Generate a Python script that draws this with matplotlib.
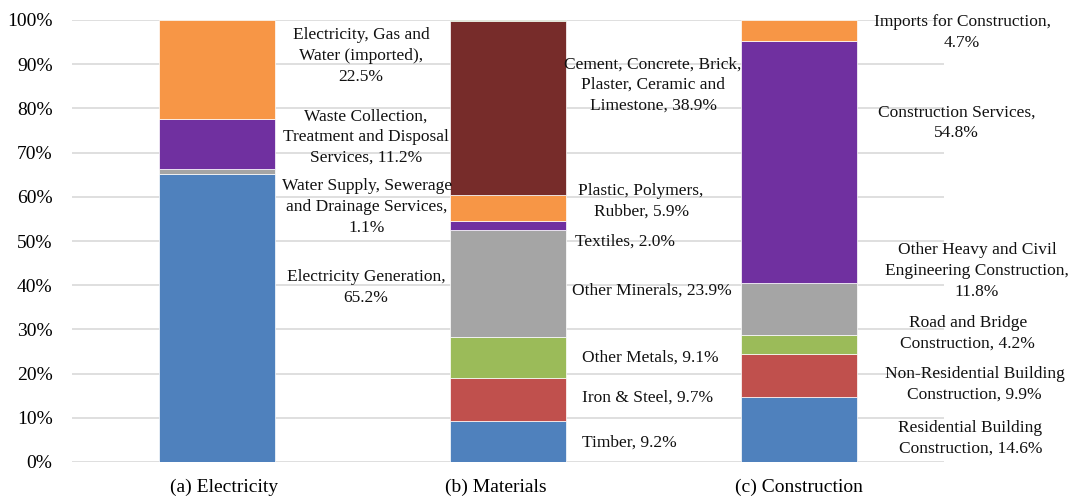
import numpy as np
import matplotlib
matplotlib.use("Agg")
import matplotlib.pyplot as plt

plt.rcParams["font.family"] = ["Liberation Serif", "DejaVu Serif"]

CATEGORIES = ["(a) Electricity", "(b) Materials", "(c) Construction"]

# (a) Electricity, bottom -> top
ELEC_VALUES = [65.2, 1.1, 11.2, 22.5]
ELEC_COLORS = ["#4F81BD", "#A5A5A5", "#7030A0", "#F79646"]
ELEC_LABELS = ["Electricity Generation,\n65.2%",
               "Water Supply, Sewerage\nand Drainage Services,\n1.1%",
               "Waste Collection,\nTreatment and Disposal\nServices, 11.2%",
               "Electricity, Gas and\nWater (imported),\n22.5%"]

# (b) Materials, bottom -> top (last one is the thin unlabelled sliver)
MAT_VALUES = [9.2, 9.7, 9.1, 23.9, 2.0, 5.9, 38.9, 0.3]
MAT_COLORS = ["#4F81BD", "#C0504D", "#9BBB59", "#A5A5A5", "#7030A0",
              "#F79646", "#772C2A", "#5F7F30"]
MAT_LABELS = ["Timber, 9.2%", "Iron & Steel, 9.7%", "Other Metals, 9.1%",
              "Other Minerals, 23.9%", "Textiles, 2.0%",
              "Plastic, Polymers,\nRubber, 5.9%",
              "Cement, Concrete, Brick,\nPlaster, Ceramic and\nLimestone, 38.9%",
              None]

# (c) Construction, bottom -> top
CON_VALUES = [14.6, 9.9, 4.2, 11.8, 54.8, 4.7]
CON_COLORS = ["#4F81BD", "#C0504D", "#9BBB59", "#A5A5A5", "#7030A0", "#F79646"]
CON_LABELS = ["Residential Building\nConstruction, 14.6%",
              "Non-Residential Building\nConstruction, 9.9%",
              "Road and Bridge\nConstruction, 4.2%",
              "Other Heavy and Civil\nEngineering Construction,\n11.8%",
              "Construction Services,\n54.8%",
              "Imports for Construction,\n4.7%"]

# label placement (x offset from bar centre, y in %), set by hand like the original
ELEC_LABEL_POS = [(0.512, 39.4), (0.515, 57.7), (0.512, 73.5), (0.494, 91.9)]
MAT_LABEL_POS = [(0.416, 4.3), (0.481, 14.5), (0.488, 23.5), (0.495, 38.7),
                 (0.403, 49.8), (0.458, 59.0), (0.499, 85.3), None]
CON_LABEL_POS = [(0.591, 5.4), (0.605, 17.6), (0.582, 29.2), (0.614, 43.2),
                 (0.544, 76.8), (0.562, 97.2)]
# category labels are not quite centred under the bars in the original (px)
XLABEL_SHIFT = [7, -12, 0]

fig = plt.figure(figsize=(10.72, 4.96), dpi=100)
ax = fig.add_axes([72 / 1072, 34 / 496, 872 / 1072, 442 / 496])

groups = [(ELEC_VALUES, ELEC_COLORS, ELEC_LABELS, ELEC_LABEL_POS),
          (MAT_VALUES, MAT_COLORS, MAT_LABELS, MAT_LABEL_POS),
          (CON_VALUES, CON_COLORS, CON_LABELS, CON_LABEL_POS)]

for i, (vals, cols, labs, pos) in enumerate(groups):
    v = np.array(vals, dtype=float)
    v = v / v.sum() * 100          # 100% stacked
    bottoms = np.concatenate([[0], np.cumsum(v)[:-1]])
    ax.bar(i, v, bottom=bottoms, width=0.4, color=cols,
           edgecolor="white", linewidth=0.5, zorder=3)
    for lab, p in zip(labs, pos):
        if lab is None:
            continue
        ax.text(i + p[0], p[1], lab, ha="center", va="center",
                fontsize=12.5, linespacing=1.4, color="#111111", zorder=4,
                clip_on=False)

ax.set_xlim(-0.5, 2.5)
ax.set_ylim(0, 100)
ax.set_yticks(np.arange(0, 101, 10))
ax.set_yticklabels([f"{t}%" for t in range(0, 101, 10)], fontsize=14)
ax.set_xticks(range(3))
ax.set_xticklabels([])
# category names drawn by hand so they can sit slightly off-centre like the original
for i, (cat, dx) in enumerate(zip(CATEGORIES, XLABEL_SHIFT)):
    ax.annotate(cat, xy=(i, 0), xycoords=("data", "axes fraction"),
                xytext=(dx, -25), textcoords="offset pixels",
                ha="center", va="center", fontsize=14)
ax.tick_params(axis="x", length=0)
ax.tick_params(axis="y", length=0, pad=14)
ax.grid(axis="y", color="#D9D9D9", linewidth=1.2, zorder=0)
for s in ax.spines.values():
    s.set_visible(False)

fig.savefig("out.png", dpi=100)
